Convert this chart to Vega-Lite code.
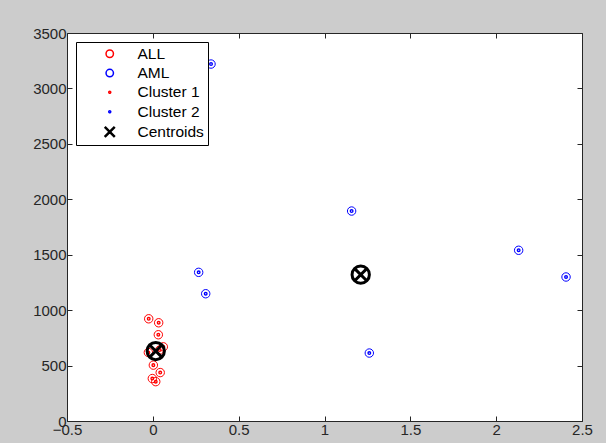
{
  "$schema": "https://vega.github.io/schema/vega-lite/v6.json",
  "width": 515,
  "height": 388,
  "autosize": "none",
  "padding": {"left": 67, "top": 33, "right": 24, "bottom": 22},
  "background": "#cccccc",
  "view": {"fill": "#ffffff", "stroke": null},
  "config": {
    "font": "Liberation Sans",
    "axis": {
      "grid": false,
      "domainColor": "#262626",
      "tickColor": "#262626",
      "tickSize": -5,
      "labelFont": "Liberation Sans",
      "labelFontSize": 15,
      "labelColor": "#262626",
      "labelPadding": 6
    },
    "legend": {
      "orient": "none",
      "legendX": 9,
      "legendY": 9,
      "fillColor": "#ffffff",
      "strokeColor": "#000000",
      "padding": 4,
      "rowPadding": 2.3,
      "labelFont": "Liberation Sans",
      "labelFontSize": 15.5,
      "labelColor": "#000000",
      "symbolSize": 100,
      "symbolStrokeWidth": 1.5,
      "symbolOffset": 22,
      "labelOffset": 20,
      "labelLimit": 300
    }
  },
  "datasets": {
    "points": [
      {"x": -0.024, "y": 922, "class": "ALL", "cluster": "Cluster 1"},
      {"x": 0.034, "y": 886, "class": "ALL", "cluster": "Cluster 1"},
      {"x": 0.032, "y": 778, "class": "ALL", "cluster": "Cluster 1"},
      {"x": 0.061, "y": 669, "class": "ALL", "cluster": "Cluster 1"},
      {"x": 0.04, "y": 640, "class": "ALL", "cluster": "Cluster 1"},
      {"x": -0.026, "y": 618, "class": "ALL", "cluster": "Cluster 1"},
      {"x": 0.003, "y": 504, "class": "ALL", "cluster": "Cluster 1"},
      {"x": 0.043, "y": 437, "class": "ALL", "cluster": "Cluster 1"},
      {"x": -0.003, "y": 383, "class": "ALL", "cluster": "Cluster 1"},
      {"x": 0.017, "y": 355, "class": "ALL", "cluster": "Cluster 1"},
      {"x": 0.339, "y": 3220, "class": "AML", "cluster": "Cluster 2"},
      {"x": 1.158, "y": 1894, "class": "AML", "cluster": "Cluster 2"},
      {"x": 0.267, "y": 1341, "class": "AML", "cluster": "Cluster 2"},
      {"x": 0.308, "y": 1148, "class": "AML", "cluster": "Cluster 2"},
      {"x": 1.261, "y": 613, "class": "AML", "cluster": "Cluster 2"},
      {"x": 2.131, "y": 1540, "class": "AML", "cluster": "Cluster 2"},
      {"x": 2.407, "y": 1299, "class": "AML", "cluster": "Cluster 2"}
    ],
    "centroids": [
      {"x": 0.017, "y": 631, "label": "Centroids"},
      {"x": 1.211, "y": 1320, "label": "Centroids"}
    ]
  },
  "layer": [
    {
      "data": {"name": "points"},
      "mark": {"type": "point", "filled": false, "size": 130, "strokeWidth": 1, "opacity": 1},
      "encoding": {
        "x": {
          "field": "x", "type": "quantitative",
          "scale": {"domain": [-0.5, 2.5], "nice": false, "zero": false},
          "axis": {"orient": "bottom", "title": null, "format": ".1~f", "values": [-0.5, 0, 0.5, 1, 1.5, 2, 2.5], "labelFlush": false, "labelOverlap": false}
        },
        "y": {
          "field": "y", "type": "quantitative",
          "scale": {"domain": [0, 3500], "nice": false},
          "axis": {"orient": "left", "title": null, "format": "d", "values": [0, 500, 1000, 1500, 2000, 2500, 3000, 3500], "labelOverlap": false}
        },
        "color": {
          "field": "class", "type": "nominal",
          "scale": {
            "domain": ["ALL", "AML", "Cluster 1", "Cluster 2", "Centroids"],
            "range": ["#ff0000", "#0000ff", "#ff0000", "#0000ff", "#000000"]
          },
          "legend": {"title": null}
        },
        "shape": {
          "field": "class", "type": "nominal",
          "scale": {
            "domain": ["ALL", "AML", "Cluster 1", "Cluster 2", "Centroids"],
            "range": [
              "M0.74,0A0.74,0.74 0 1,1 -0.74,0A0.74,0.74 0 1,1 0.74,0Z",
              "M0.74,0A0.74,0.74 0 1,1 -0.74,0A0.74,0.74 0 1,1 0.74,0Z",
              "M0.2,0A0.2,0.2 0 1,1 -0.2,0A0.2,0.2 0 1,1 0.2,0Z",
              "M0.2,0A0.2,0.2 0 1,1 -0.2,0A0.2,0.2 0 1,1 0.2,0Z",
              "M-1,-1L1,1M-0.93,-1.07L1.07,0.93M-1.07,-0.93L0.93,1.07M-1,1L1,-1M-0.93,1.07L1.07,-0.93M-1.07,0.93L0.93,-1.07"
            ]
          },
          "legend": {"title": null}
        }
      }
    },
    {
      "data": {"name": "points"},
      "mark": {"type": "point", "shape": "circle", "filled": false, "size": 2, "strokeWidth": 2.6, "opacity": 1},
      "encoding": {
        "x": {"field": "x", "type": "quantitative", "axis": null},
        "y": {"field": "y", "type": "quantitative", "axis": null},
        "color": {"field": "cluster", "type": "nominal", "legend": {"title": null}}
      }
    },
    {
      "data": {"name": "centroids"},
      "mark": {"type": "point", "shape": "circle", "filled": false, "size": 300, "strokeWidth": 3, "opacity": 1},
      "encoding": {
        "x": {
          "field": "x", "type": "quantitative",
          "axis": {"orient": "top", "title": null, "labels": false, "values": [-0.5, 0, 0.5, 1, 1.5, 2, 2.5]}
        },
        "y": {
          "field": "y", "type": "quantitative",
          "axis": {"orient": "right", "title": null, "labels": false, "values": [0, 500, 1000, 1500, 2000, 2500, 3000, 3500]}
        },
        "color": {"field": "label", "type": "nominal", "legend": {"title": null}}
      }
    },
    {
      "data": {"name": "centroids"},
      "mark": {"type": "point", "shape": "M-0.7,-0.7L0.7,0.7M-0.7,0.7L0.7,-0.7", "filled": false, "size": 300, "strokeWidth": 3, "opacity": 1},
      "encoding": {
        "x": {"field": "x", "type": "quantitative", "axis": null},
        "y": {"field": "y", "type": "quantitative", "axis": null},
        "color": {"field": "label", "type": "nominal", "legend": {"title": null}}
      }
    }
  ],
  "resolve": {"axis": {"x": "independent", "y": "independent"}}
}
